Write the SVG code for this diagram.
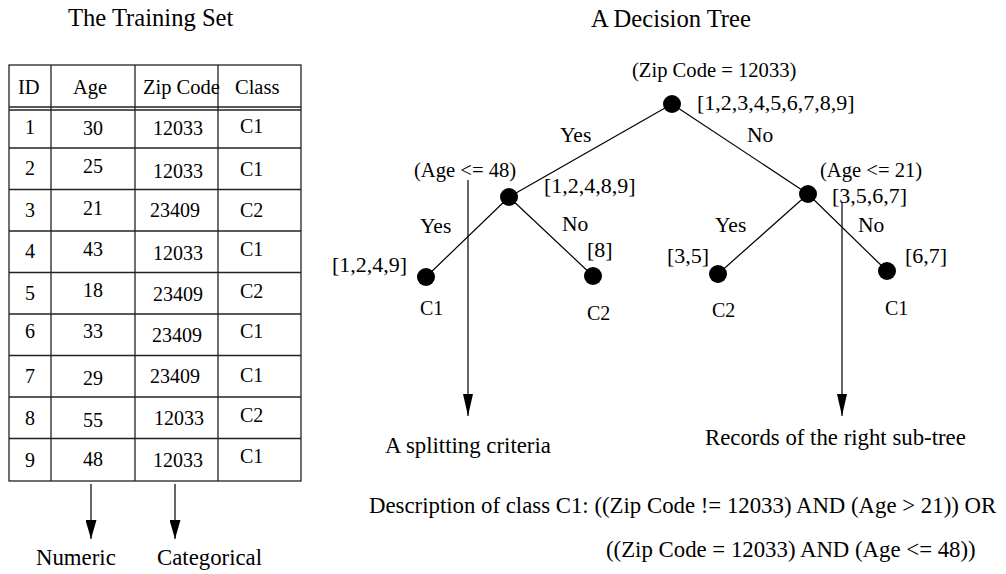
<svg xmlns="http://www.w3.org/2000/svg" width="1006" height="574" viewBox="0 0 1006 574">
<defs>
<style>
text{font-family:"Liberation Serif","Times New Roman",serif;fill:#000}
.title{font-size:24.6px}
.cell{font-size:20px}
.hdr{font-size:20.5px}
.cond{font-size:20.6px}
.set{font-size:22px}
.yn{font-size:21.5px}
.leaf{font-size:20px}
.big{font-size:22.8px}
.grid{stroke:#222;stroke-width:1.3;fill:none}
.edge{stroke:#000;stroke-width:1.2;fill:none}
.node{fill:#000}
.arr{stroke:#000;stroke-width:1.2;fill:none}
</style>
<marker id="ah" markerUnits="userSpaceOnUse" markerWidth="22" markerHeight="10" refX="22" refY="5" orient="auto">
<path d="M0,0 L22,5 L0,10 Z" fill="#000"/>
</marker>
<marker id="ahs" markerUnits="userSpaceOnUse" markerWidth="19" markerHeight="11" refX="19" refY="5.5" orient="auto">
<path d="M0,0 L19,5.5 L0,11 Z" fill="#000"/>
</marker>
</defs>

<text class="title" x="68" y="26">The Training Set</text>
<text class="title" x="591" y="27">A Decision Tree</text>

<g id="table">
<rect class="grid" x="9" y="65" width="292" height="416"/>
<line class="grid" x1="51" y1="65" x2="51" y2="481"/>
<line class="grid" x1="135" y1="65" x2="135" y2="481"/>
<line class="grid" x1="218" y1="65" x2="218" y2="481"/>
<line class="grid" x1="9" y1="107" x2="301" y2="107"/>
<line class="grid" x1="9" y1="110" x2="301" y2="110"/>
<line class="grid" x1="9" y1="148" x2="301" y2="148"/>
<line class="grid" x1="9" y1="189.5" x2="301" y2="189.5"/>
<line class="grid" x1="9" y1="231" x2="301" y2="231"/>
<line class="grid" x1="9" y1="272.5" x2="301" y2="272.5"/>
<line class="grid" x1="9" y1="314" x2="301" y2="314"/>
<line class="grid" x1="9" y1="355.5" x2="301" y2="355.5"/>
<line class="grid" x1="9" y1="397" x2="301" y2="397"/>
<line class="grid" x1="9" y1="438.5" x2="301" y2="438.5"/>
<text class="hdr" x="18" y="94">ID</text>
<text class="hdr" x="73" y="94">Age</text>
<text class="hdr" x="143" y="94">Zip Code</text>
<text class="hdr" x="235" y="94">Class</text>
<g>
<text class="cell" x="25" y="134">1</text><text class="cell" x="83" y="135">30</text><text class="cell" x="153" y="135">12033</text><text class="cell" x="240" y="133">C1</text>
<text class="cell" x="25" y="175">2</text><text class="cell" x="83" y="173">25</text><text class="cell" x="153" y="178">12033</text><text class="cell" x="240" y="176">C1</text>
<text class="cell" x="25" y="217">3</text><text class="cell" x="83" y="215">21</text><text class="cell" x="150" y="217">23409</text><text class="cell" x="240" y="217">C2</text>
<text class="cell" x="25" y="258">4</text><text class="cell" x="83" y="256">43</text><text class="cell" x="153" y="260">12033</text><text class="cell" x="240" y="256">C1</text>
<text class="cell" x="25" y="300">5</text><text class="cell" x="83" y="297">18</text><text class="cell" x="153" y="301">23409</text><text class="cell" x="240" y="298">C2</text>
<text class="cell" x="25" y="338">6</text><text class="cell" x="83" y="338">33</text><text class="cell" x="152" y="342">23409</text><text class="cell" x="240" y="338">C1</text>
<text class="cell" x="25" y="383">7</text><text class="cell" x="83" y="385">29</text><text class="cell" x="150" y="383">23409</text><text class="cell" x="240" y="382">C1</text>
<text class="cell" x="25" y="425">8</text><text class="cell" x="83" y="427">55</text><text class="cell" x="154" y="425">12033</text><text class="cell" x="240" y="422">C2</text>
<text class="cell" x="25" y="467">9</text><text class="cell" x="83" y="466">48</text><text class="cell" x="153" y="467">12033</text><text class="cell" x="240" y="463">C1</text>
</g>
</g>

<g id="connectors">
<line class="edge" x1="672" y1="104" x2="509" y2="197"/>
<line class="edge" x1="672" y1="104" x2="808" y2="194"/>
<line class="edge" x1="509" y1="197" x2="426" y2="277"/>
<line class="edge" x1="509" y1="197" x2="593" y2="276"/>
<line class="edge" x1="808" y1="194" x2="718" y2="274"/>
<line class="edge" x1="808" y1="194" x2="887" y2="271"/>
<line class="arr" x1="468" y1="180" x2="468" y2="416" marker-end="url(#ah)"/>
<line class="arr" x1="842" y1="202" x2="842" y2="416" marker-end="url(#ah)"/>
<line class="arr" x1="91" y1="484" x2="91" y2="539" marker-end="url(#ahs)"/>
<line class="arr" x1="175" y1="484" x2="175" y2="539" marker-end="url(#ahs)"/>
<text class="yn" x="560" y="142">Yes</text>
<text class="yn" x="747" y="142">No</text>
<text class="yn" x="420" y="233">Yes</text>
<text class="yn" x="562" y="231">No</text>
<text class="yn" x="715" y="232">Yes</text>
<text class="yn" x="858" y="232">No</text>
</g>

<g id="root">
<circle class="node" cx="672" cy="104" r="9"/>
<text class="cond" x="632" y="77">(Zip Code = 12033)</text>
<text class="set" x="697" y="110">[1,2,3,4,5,6,7,8,9]</text>
</g>
<g id="age48">
<circle class="node" cx="509" cy="197" r="9"/>
<text class="cond" x="414" y="177">(Age &lt;= 48)</text>
<text class="set" x="544" y="193">[1,2,4,8,9]</text>
</g>
<g id="age21">
<circle class="node" cx="808" cy="194" r="9"/>
<text class="cond" x="820" y="177">(Age &lt;= 21)</text>
<text class="set" x="832" y="203">[3,5,6,7]</text>
</g>
<g id="leaf1">
<circle class="node" cx="426" cy="277" r="9"/>
<text class="set" x="332" y="272">[1,2,4,9]</text>
<text class="leaf" x="420" y="315">C1</text>
</g>
<g id="leaf2">
<circle class="node" cx="593" cy="276" r="9"/>
<text class="set" x="587" y="257">[8]</text>
<text class="leaf" x="587" y="320">C2</text>
</g>
<g id="leaf3">
<circle class="node" cx="718" cy="274" r="9"/>
<text class="set" x="667" y="263">[3,5]</text>
<text class="leaf" x="712" y="317">C2</text>
</g>
<g id="leaf4">
<circle class="node" cx="887" cy="271" r="9"/>
<text class="set" x="905" y="263">[6,7]</text>
<text class="leaf" x="885" y="315">C1</text>
</g>

<g id="labels">
<text class="big" x="36" y="565">Numeric</text>
<text class="big" x="157" y="565">Categorical</text>
<text class="big" x="385" y="453">A splitting criteria</text>
<text class="big" x="705" y="445">Records of the right sub-tree</text>
<text class="big" x="369" y="513">Description of class C1: ((Zip Code != 12033) AND (Age &gt; 21)) OR</text>
<text class="big" x="606" y="557">((Zip Code = 12033) AND (Age &lt;= 48))</text>
</g>
</svg>
